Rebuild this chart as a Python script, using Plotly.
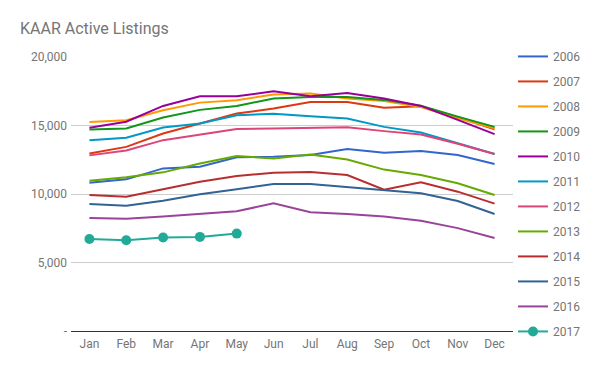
import plotly.graph_objects as go

months = ["Jan", "Feb", "Mar", "Apr", "May", "Jun", "Jul", "Aug", "Sep", "Oct", "Nov", "Dec"]

y2006 = [10820, 11070, 11870, 11990, 12680, 12720, 12850, 13280, 13020, 13130, 12850, 12190]
y2007 = [12960, 13440, 14420, 15150, 15870, 16240, 16720, 16720, 16290, 16400, 15600, 14720]
y2008 = [15260, 15390, 16110, 16670, 16840, 17260, 17340, 16970, 16780, 16350, 15530, 14800]
y2009 = [14710, 14780, 15580, 16140, 16430, 16970, 17080, 17080, 16870, 16450, 15650, 14900]
y2010 = [14830, 15280, 16430, 17130, 17130, 17500, 17130, 17370, 16970, 16430, 15410, 14370]
y2011 = [13930, 14100, 14850, 15150, 15750, 15850, 15680, 15510, 14900, 14490, 13700, 12920]
y2012 = [12820, 13180, 13930, 14340, 14750, 14780, 14850, 14880, 14590, 14340, 13670, 12920]
y2013 = [10970, 11220, 11580, 12230, 12770, 12600, 12890, 12520, 11780, 11380, 10780, 9930]
y2014 = [9930, 9800, 10340, 10900, 11310, 11550, 11600, 11380, 10320, 10850, 10170, 9300]
y2015 = [9270, 9150, 9510, 9980, 10340, 10730, 10730, 10490, 10250, 10050, 9490, 8540]
y2016 = [8250, 8200, 8350, 8540, 8740, 9320, 8670, 8540, 8350, 8040, 7510, 6790]
y2017 = [6720, 6630, 6820, 6870, 7110]

series = [
    ("2006", y2006, "#3366cc"),
    ("2007", y2007, "#dc3912"),
    ("2008", y2008, "#ff9900"),
    ("2009", y2009, "#109618"),
    ("2010", y2010, "#990099"),
    ("2011", y2011, "#0099c6"),
    ("2012", y2012, "#dd4477"),
    ("2013", y2013, "#66aa00"),
    ("2014", y2014, "#b82e2e"),
    ("2015", y2015, "#316395"),
    ("2016", y2016, "#994499"),
    ("2017", y2017, "#22aa99"),
]

y_tickvals = [0, 5000, 10000, 15000, 20000]
y_ticktext = ["-", "5,000", "10,000", "15,000", "20,000"]

fig = go.Figure()
for name, vals, color in series:
    if name == "2017":
        fig.add_trace(go.Scatter(
            x=months[:len(vals)], y=vals, name=name, mode="lines+markers",
            line=dict(color=color, width=2), marker=dict(size=10, color=color),
            legendgroup=name,
        ))
    else:
        fig.add_trace(go.Scatter(
            x=months[:len(vals)], y=vals, name=name, mode="lines",
            line=dict(color=color, width=2), legendgroup=name,
        ))

fig.update_layout(
    width=600, height=371,
    margin=dict(l=71, r=87, t=57, b=40, autoexpand=False),
    paper_bgcolor="white", plot_bgcolor="white",
    font=dict(family="Roboto", size=12, color="#757575"),
    title=dict(text="KAAR Active Listings", x=20/600, xanchor="left",
               y=1 - 28/371, yanchor="middle",
               font=dict(family="Roboto", size=16, color="#757575")),
    showlegend=True,
    legend=dict(x=1.0, xanchor="left", y=1.055, yanchor="top",
                font=dict(family="Roboto", size=12, color="#757575"),
                tracegroupgap=6, bgcolor="rgba(0,0,0,0)", maxheight=340),
    xaxis=dict(type="category", categoryorder="array", categoryarray=months,
               range=[-0.5, 11.5], showgrid=False, showline=False, ticks="",
               ticklabelstandoff=4, zeroline=False),
    yaxis=dict(range=[0, 20000], tickvals=y_tickvals, ticktext=y_ticktext,
               showgrid=True, gridcolor="#cccccc", gridwidth=1,
               zeroline=True, zerolinecolor="#333333", zerolinewidth=1,
               ticks="", ticklabelstandoff=3, showline=False),
)

fig.write_html("out.html", config={"displayModeBar": False},
               post_script="document.body.style.margin='0';")
